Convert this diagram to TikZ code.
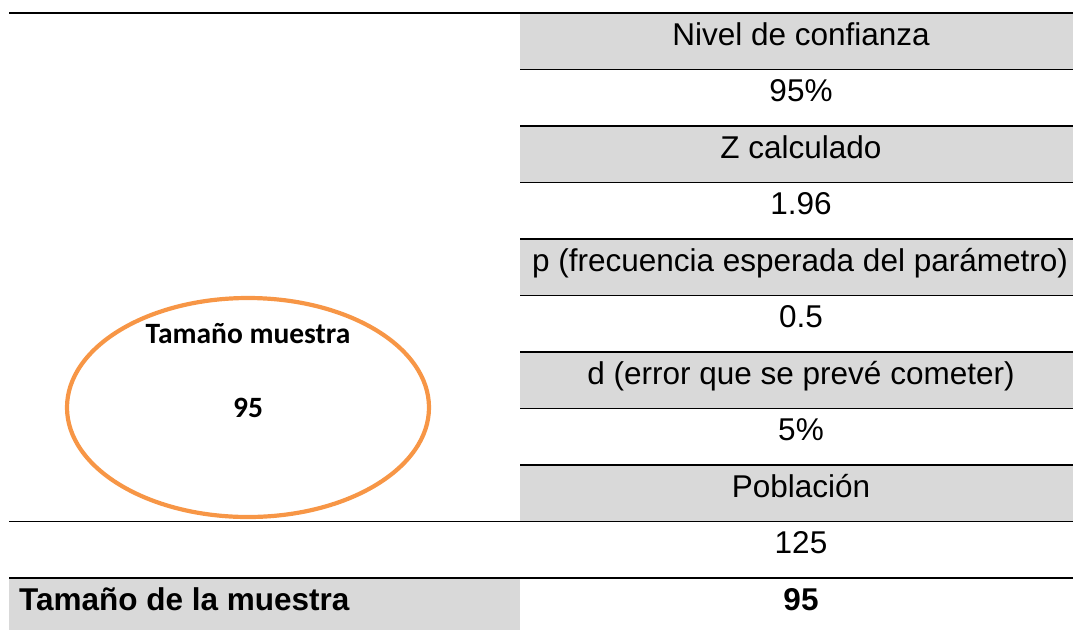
\documentclass[tikz,border=0pt]{standalone}
\usepackage{fontspec}
\setmainfont{Liberation Sans}
\newfontfamily\calibrifont{Carlito}
\definecolor{cellgray}{HTML}{D9D9D9}
\definecolor{ringorange}{HTML}{F79646}
\tikzset{
  cell/.style={anchor=base, inner sep=0pt, font=\fontsize{31.5}{36}\selectfont},
  cellbold/.style={cell, font=\fontsize{31.5}{36}\selectfont\bfseries},
  rule/.style={line width=1.8pt},
  ring/.style={draw=ringorange, line width=4.2pt},
  ringtext/.style={anchor=base, inner sep=0pt, font=\calibrifont\bfseries\fontsize{29.5}{34}\selectfont}
}
\begin{document}
\begin{tikzpicture}[x=1pt,y=-1pt]
  \useasboundingbox (0,0) rectangle (1073,630);
  % grey rows
  \fill[cellgray] (520,13) rectangle (1073,69.5);
  \fill[cellgray] (520,126) rectangle (1073,182.5);
  \fill[cellgray] (520,239) rectangle (1073,295.5);
  \fill[cellgray] (520,352) rectangle (1073,408.5);
  \fill[cellgray] (520,465) rectangle (1073,521.5);
  \fill[cellgray] (9,578) rectangle (520,630);
  % rules
  \draw[rule] (9,13) -- (1073,13);
  \draw[rule] (520,69.5) -- (1073,69.5);
  \draw[rule] (520,126) -- (1073,126);
  \draw[rule] (520,182.5) -- (1073,182.5);
  \draw[rule] (520,239) -- (1073,239);
  \draw[rule] (520,295.5) -- (1073,295.5);
  \draw[rule] (520,352) -- (1073,352);
  \draw[rule] (520,408.5) -- (1073,408.5);
  \draw[rule] (520,465) -- (1073,465);
  \draw[rule] (9,521.5) -- (1073,521.5);
  \draw[rule] (9,578) -- (1073,578);
  % right column
  \node[cell] (nivel) at (801,45) {Nivel de confianza};
  \node[cell] (nivelval) at (801,101.5) {95\%};
  \node[cell] (zcalc) at (801,158) {Z calculado};
  \node[cell] (zval) at (801,214.5) {1.96};
  \node[cell] (pfrec) at (800,271) {p (frecuencia esperada del parámetro)};
  \node[cell] (pval) at (801,327.5) {0.5};
  \node[cell] (derror) at (801,384) {d (error que se prevé cometer)};
  \node[cell] (dval) at (801,440.5) {5\%};
  \node[cell] (poblacion) at (801,497) {Población};
  \node[cell] (poblval) at (801,553.5) {125};
  \node[cellbold] (totalval) at (801,610) {95};
  \node[cellbold, anchor=base west] (total) at (19,610) {Tamaño de la muestra};
  % ellipse
  \draw[ring] (248,407.5) ellipse (181pt and 109.5pt);
  \node[ringtext] (tamano) at (248,343) {Tamaño muestra};
  \node[ringtext] (tamanoval) at (248,417) {95};
\end{tikzpicture}
\end{document}
